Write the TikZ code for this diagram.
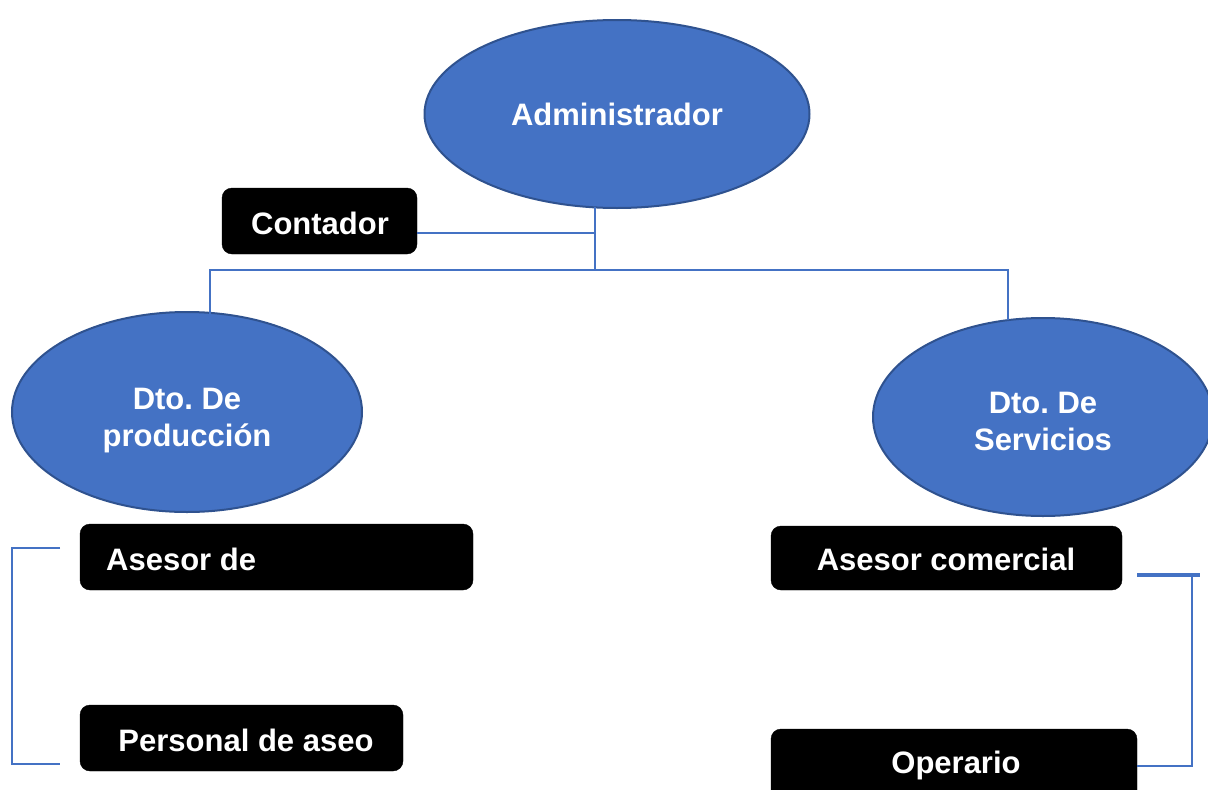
\documentclass[tikz,border=0pt]{standalone}
\usepackage{fontspec}
\setmainfont{Liberation Sans}
\usetikzlibrary{shapes.geometric}
\definecolor{blu}{HTML}{4472C4}
\definecolor{bluedge}{HTML}{2F528F}
\frenchspacing
\tikzset{
  oval/.style={ellipse, fill=blu, draw=bluedge, line width=2pt, inner sep=0pt},
  blk/.style={fill=black, rounded corners=10pt, anchor=north west},
  lbl/.style={text=white, font=\fontsize{31}{37}\selectfont\bfseries, inner sep=0pt},
  conn/.style={draw=blu, line width=1.2pt}
}
\begin{document}
\begin{tikzpicture}[x=1pt,y=-1pt]
\useasboundingbox (0,0) rectangle (1208,790);
\clip (0,0) rectangle (1208,790);
% ellipses
\node[oval, minimum width=385, minimum height=188] (adm) at (617,114) {};
\node[lbl] at (617,114) {Administrador};
\node[oval, minimum width=350, minimum height=200] (prod) at (187,412) {};
\node[lbl, align=center] at (187,421) {Dto. De\\producción};
\node[oval, minimum width=340, minimum height=198] (serv) at (1043,417) {};
\node[lbl, align=center] at (1043,421) {Dto. De\\Servicios};
% black boxes
\filldraw[blk] (222,188) rectangle (417,254);
\node[lbl] (cont) at (320,223) {Contador};
\coordinate (contR) at (417,233);
\filldraw[blk] (80,524) rectangle (473,590);
\node[lbl, anchor=west] (ases) at (106,559) {Asesor de};
\filldraw[blk] (80,705) rectangle (403,771);
\node[lbl] (pers) at (246,740) {Personal de aseo};
\filldraw[blk] (771,526) rectangle (1122,590);
\node[lbl] (com) at (946,559) {Asesor comercial};
\filldraw[blk] (771,729) rectangle (1137,810);
\node[lbl] (ope) at (956,765) {Operario};
% connectors
\coordinate (j) at (595,270);
\draw[conn] (595,207) -- (j);
\draw[conn] (contR) -- (595,233);
\draw[conn] (210,318) -- (210,270) -- (1008,270) -- (1008,320);
% left bracket
\draw[conn] (60,548) -- (12,548) -- (12,764) -- (60,764);
% right bracket
\draw[draw=blu, line width=3.5pt] (1137,575) -- (1200,575);
\draw[conn] (1192,575) -- (1192,766) -- (1137,766);
\end{tikzpicture}
\end{document}
